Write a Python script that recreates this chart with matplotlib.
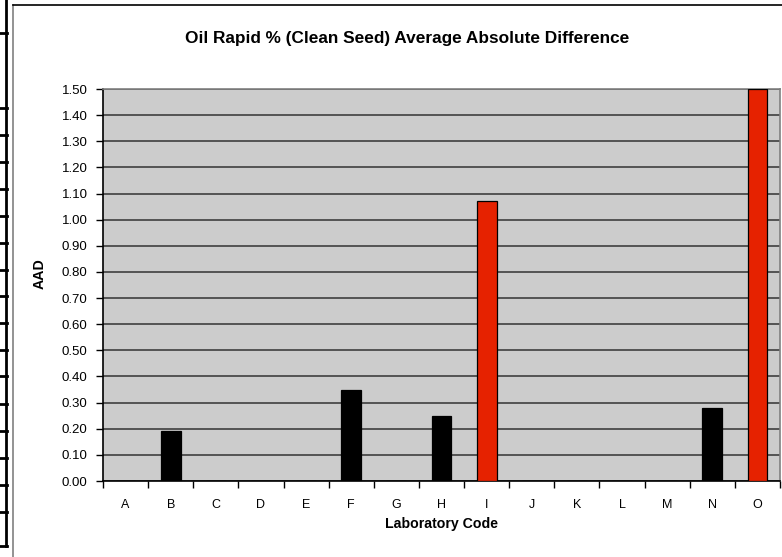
import matplotlib
matplotlib.use("Agg")
import matplotlib.pyplot as plt
from matplotlib.lines import Line2D
import numpy as np

plt.rcParams['font.family'] = ['Liberation Sans', 'DejaVu Sans']

labs = ['A', 'B', 'C', 'D', 'E', 'F', 'G', 'H', 'I', 'J', 'K', 'L', 'M', 'N', 'O']
aad = [0, 0.19, 0, 0, 0, 0.35, 0, 0.25, 1.07, 0, 0, 0, 0, 0.28, 1.50]
flagged = ['I', 'O']

W, H = 782, 557
fig = plt.figure(figsize=(W / 100, H / 100), dpi=100)

def fx(px):
    return px / W

def fy(py):
    return 1 - py / H

# spreadsheet cell borders at the left edge
fig.add_artist(Line2D([fx(6), fx(6)], [fy(0), fy(546)], color='black', lw=2))
for yy in [33, 108, 135, 162, 189, 216, 243, 270, 296, 323, 350, 376,
           404, 431, 458, 485, 512, 546]:
    fig.add_artist(Line2D([fx(0), fx(7)], [fy(yy), fy(yy)], color='black', lw=2))

# chart frame
fig.add_artist(Line2D([fx(12.5), fx(12.5)], [fy(5), fy(557)], color='#808080', lw=1.2))
fig.add_artist(Line2D([fx(12.5), fx(782)], [fy(5), fy(5)], color='black', lw=1.2))

ax = fig.add_axes([fx(103), fy(481), fx(780) - fx(103), fy(89) - fy(481)])
ax.set_facecolor('#CCCCCC')

x = np.arange(len(labs))
cols = ['#E62200' if l in flagged else 'black' for l in labs]
ax.bar(x, aad, width=0.44, color=cols, edgecolor='black', linewidth=0.9, zorder=3)

ax.set_xlim(-0.5, len(labs) - 0.5)
ax.set_ylim(0, 1.5)
ax.set_yticks(np.arange(0, 1.51, 0.1))
ax.set_yticklabels(['%.2f' % v for v in np.arange(0, 1.51, 0.1)])
ax.yaxis.grid(True, color='#4a4a4a', lw=1.3, zorder=1)
ax.set_axisbelow(True)

ax.set_xticks(x)
ax.set_xticklabels(labs)
ax.set_xticks(np.arange(-0.5, len(labs), 1), minor=True)
ax.tick_params(axis='x', which='major', length=0, pad=13, labelsize=9)
ax.tick_params(axis='x', which='minor', length=5, width=1, direction='out')
ax.tick_params(axis='y', length=5, width=1, direction='out', pad=6, labelsize=9.5)

for s in ['left', 'bottom']:
    ax.spines[s].set_color('black')
    ax.spines[s].set_linewidth(1.2)
for s in ['top', 'right']:
    ax.spines[s].set_color('#808080')
    ax.spines[s].set_linewidth(1.2)

ax.set_xlabel('Laboratory Code', fontsize=10.2, fontweight='bold')
ax.xaxis.set_label_coords(0.5, -(517 - 481) / 392)
ax.set_ylabel('AAD', fontsize=10.2, fontweight='bold')
ax.yaxis.set_label_coords(-(103 - 47) / 677, 0.53)

fig.text(fx(407), fy(38), 'Oil Rapid % (Clean Seed) Average Absolute Difference',
         ha='center', va='center', fontsize=12.4, fontweight='bold')

fig.savefig('out.png', dpi=100)
